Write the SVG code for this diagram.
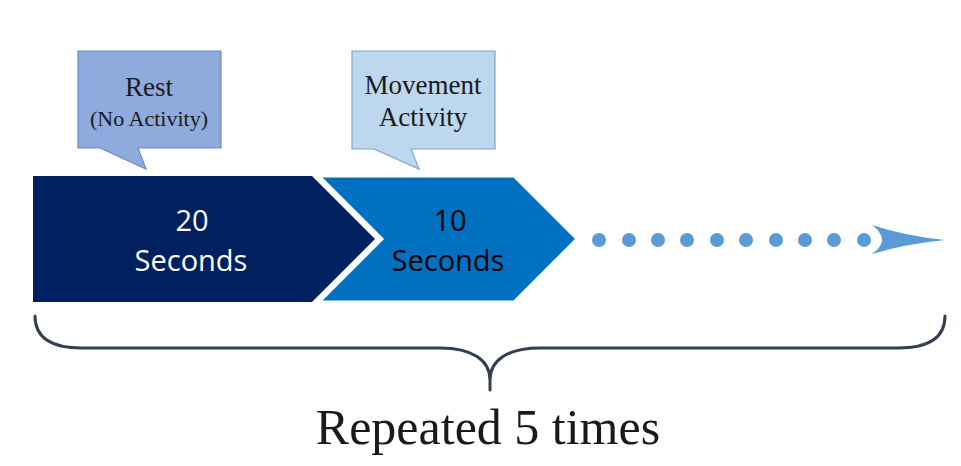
<svg xmlns="http://www.w3.org/2000/svg" width="961" height="466" viewBox="0 0 961 466">
  <style>
    .serif { font-family: "Liberation Serif", "Times New Roman", serif; fill: #1a1a1a; text-anchor: middle; }
    .sans { font-family: "Open Sans", "Liberation Sans", Arial, sans-serif; text-anchor: middle; font-size: 29px; }
    .dot { fill: #5b9bd5; }
  </style>
  <rect width="961" height="466" fill="#ffffff"/>

  <!-- callout: rest -->
  <g id="callout-rest">
    <path d="M78,51 H221 V148 H138 L146,169 L100,148 H78 Z" fill="#8faadc" stroke="#6b8cc7" stroke-width="1.2"/>
    <text class="serif" x="149" y="96" font-size="27">Rest</text>
    <text class="serif" x="149" y="126" font-size="22">(No Activity)</text>
  </g>

  <!-- callout: movement -->
  <g id="callout-movement">
    <path d="M352,51 H495 V149 H411 L419,169 L374,149 H352 Z" fill="#bdd7ee" stroke="#7fa4cc" stroke-width="1.2"/>
    <text class="serif" x="423" y="94" font-size="27">Movement</text>
    <text class="serif" x="423" y="126" font-size="27">Activity</text>
  </g>

  <!-- chevron: 20 seconds -->
  <g id="chevron-rest">
    <path d="M33,176 H312 L375,239 L312,302 H33 Z" fill="#002060"/>
    <text class="sans" x="192" y="231" fill="#ffffff">20</text>
    <text class="sans" x="191" y="271" fill="#ffffff">Seconds</text>
  </g>

  <!-- chevron: 10 seconds -->
  <g id="chevron-movement">
    <path d="M319,176 H514 L577,239 L514,302 H319 L382,239 Z" fill="#0070c0" stroke="#ffffff" stroke-width="3" stroke-linejoin="miter"/>
    <text class="sans" x="450" y="231" fill="#000000">10</text>
    <text class="sans" x="448" y="271" fill="#000000">Seconds</text>
  </g>

  <!-- connectors: dotted continuation arrow and brace -->
  <g id="connectors">
    <g id="dotted-arrow">
      <circle class="dot" cx="599" cy="240" r="7"/>
      <circle class="dot" cx="629" cy="240" r="7"/>
      <circle class="dot" cx="658" cy="240" r="7"/>
      <circle class="dot" cx="687" cy="240" r="7"/>
      <circle class="dot" cx="717" cy="240" r="7"/>
      <circle class="dot" cx="746" cy="240" r="7"/>
      <circle class="dot" cx="776" cy="240" r="7"/>
      <circle class="dot" cx="805" cy="240" r="7"/>
      <circle class="dot" cx="834" cy="240" r="7"/>
      <circle class="dot" cx="864" cy="240" r="7"/>
      <path d="M872,225 Q905,236 945,240 Q905,244 872,254 Q892,240 872,225 Z" fill="#5b9bd5"/>
    </g>
    <path id="brace" d="M35,316 C35,338 52,348 82,348 L440,348 C472,348 490,360 490,380 L490,390 M490,380 C490,360 508,348 540,348 L898,348 C928,348 945,338 945,316" fill="none" stroke="#333f50" stroke-width="3" stroke-linecap="round"/>
  </g>

  <g id="label-repeat">
    <text class="serif" x="488" y="444" font-size="50">Repeated 5 times</text>
  </g>
</svg>
